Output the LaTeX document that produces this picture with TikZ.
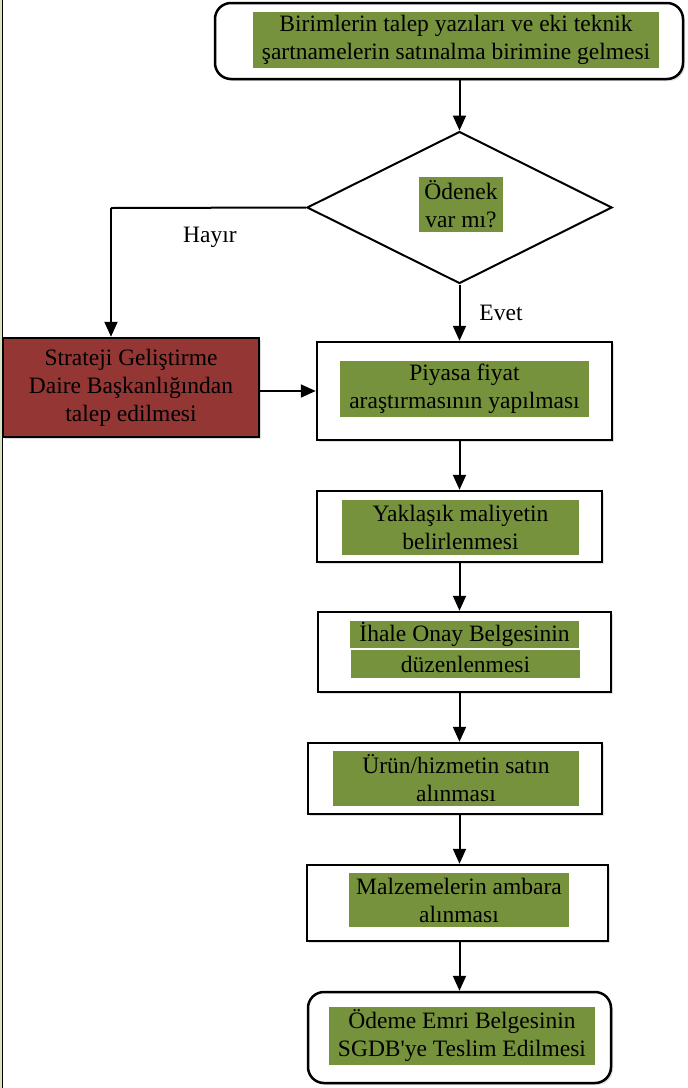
\documentclass[tikz,border=0pt]{standalone}
\usepackage{fontspec}
\setmainfont{Liberation Serif}[Ligatures=TeXOff]
\usetikzlibrary{arrows.meta,shapes.geometric,shadows}
\definecolor{zeytin}{HTML}{76923C}
\definecolor{kiremit}{HTML}{943634}
\definecolor{acikyesil}{HTML}{D7E4BD}

\begin{document}
\begin{tikzpicture}[
    x=1pt, y=-1pt,
    font=\fontsize{23.5}{28}\selectfont,
    kutu/.style={
      rectangle,
      draw,
      line width=2.5pt,
      fill=white,
      inner sep=0pt,
      drop shadow={shadow xshift=2pt, shadow yshift=-2pt, opacity=.25}
    },
    yuvarlak/.style={kutu, rounded corners=16pt},
    karar/.style={
      diamond,
      draw,
      line width=2pt,
      fill=white,
      inner sep=0pt
    },
    yesil/.style={
      rectangle,
      fill=zeytin,
      inner sep=0pt,
      align=center
    },
    ok/.style={line width=2pt, -{Triangle[width=13pt,length=15pt]}}
  ]
  \useasboundingbox (0,0) rectangle (688,1088);

  % sol kenar
  \fill[acikyesil] (0,0) rectangle (2,1088);
  \draw[line width=1.5pt] (2.5,0) -- (2.5,1088);

  % kutular
  \node (b1) at (449,41) [yuvarlak, minimum width=468pt, minimum height=76pt] {};
  \node (g1) at (456,40) [yesil, minimum width=406pt, minimum height=56pt]
    {Birimlerin talep yazıları ve eki teknik\\şartnamelerin satınalma birimine gelmesi};

  \node (d) at (459.5,207.5) [karar, minimum width=305pt, minimum height=152pt] {};
  \node (gd) at (461,204.5) [yesil, minimum width=84pt, minimum height=55pt]
    {Ödenek\\var mı?};

  \node (r) at (131,387.5) [kutu, fill=kiremit, minimum width=256pt, minimum height=99pt, align=center]
    {Strateji Geliştirme\\Daire Başkanlığından\\talep edilmesi};

  \node (p1) at (464.5,391) [kutu, minimum width=295pt, minimum height=98pt] {};
  \node (g2) at (464.5,389) [yesil, minimum width=249pt, minimum height=56pt]
    {Piyasa fiyat\\araştırmasının yapılması};

  \node (p2) at (459.5,526.5) [kutu, minimum width=285pt, minimum height=71pt] {};
  \node (g3) at (460.5,527.5) [yesil, minimum width=237pt, minimum height=55pt]
    {Yaklaşık maliyetin\\belirlenmesi};

  \node (p3) at (464.5,652) [kutu, minimum width=293pt, minimum height=80pt] {};
  \node (g4a) at (464.5,634.5) [yesil, minimum width=229pt, minimum height=27pt]
    {İhale Onay Belgesinin};
  \node (g4b) at (465.5,664) [yesil, minimum width=229pt, minimum height=28pt]
    {düzenlenmesi};

  \node (p4) at (455,778.5) [kutu, minimum width=294pt, minimum height=71pt] {};
  \node (g5) at (456,778.5) [yesil, minimum width=246pt, minimum height=55pt]
    {Ürün/hizmetin satın\\alınması};

  \node (p5) at (457.5,903) [kutu, minimum width=301pt, minimum height=76pt] {};
  \node (g6) at (459,900) [yesil, minimum width=220pt, minimum height=54pt]
    {Malzemelerin ambara\\alınması};

  \node (p6) at (459.5,1037.5) [yuvarlak, minimum width=303pt, minimum height=91pt] {};
  \node (g7) at (462,1036) [yesil, minimum width=266pt, minimum height=58pt]
    {Ödeme Emri Belgesinin\\SGDB'ye Teslim Edilmesi};

  % baglantilar
  \coordinate (hk) at (111,208);
  \draw[ok] (d.north |- b1.south) -- (d.north);
  \draw[line width=2pt] (d.west) -- (hk);
  \draw[ok] (hk) -- (hk |- r.north);
  \node (hayir) at (210,237) {Hayır};
  \draw[ok] (d.south) -- (d.south |- p1.north);
  \node (evet) at (501,313) {Evet};
  \draw[ok] (r.east |- p1.west) -- (p1.west);
  \draw[ok] (p1.south -| p2) -- (p2.north);
  \draw[ok] (p2.south) -- (p2.south |- p3.north);
  \draw[ok] (p3.south -| p2) -- (p4.north -| p2);
  \draw[ok] (p4.south -| p2) -- (p5.north -| p2);
  \draw[ok] (p5.south -| p2) -- (p6.north -| p2);

\end{tikzpicture}
\end{document}
